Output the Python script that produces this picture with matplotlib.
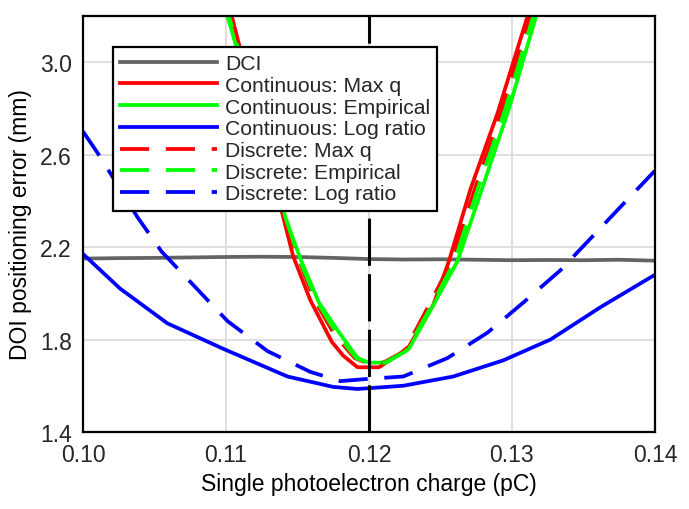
import matplotlib
matplotlib.use('Agg')
import matplotlib.pyplot as plt

plt.rcParams['font.family'] = ['Liberation Sans', 'DejaVu Sans']
plt.rcParams['lines.scale_dashes'] = False

# DCI
dci_x = [0.100, 0.1025, 0.105, 0.1075, 0.110, 0.1125, 0.115, 0.1175, 0.120,
         0.1225, 0.125, 0.1275, 0.130, 0.1325, 0.135, 0.1375, 0.140]
dci_y = [2.150, 2.152, 2.153, 2.155, 2.157, 2.158, 2.157, 2.153, 2.148,
         2.146, 2.147, 2.145, 2.143, 2.144, 2.143, 2.145, 2.141]

# continuous: max q
cmq_x = [0.1090, 0.1104, 0.1140, 0.1147, 0.1159, 0.1174, 0.1182, 0.1192, 0.1207,
         0.1222, 0.1228, 0.1245, 0.1256, 0.1271, 0.1290, 0.1311, 0.1320]
cmq_y = [3.55, 3.20, 2.33, 2.16, 1.97, 1.79, 1.73, 1.68, 1.68,
         1.74, 1.77, 1.95, 2.14, 2.45, 2.78, 3.20, 3.40]

# continuous: empirical
cem_x = [0.1087, 0.1101, 0.1142, 0.1152, 0.1165, 0.1178, 0.1192, 0.1200, 0.1212,
         0.1228, 0.1246, 0.1262, 0.1279, 0.1298, 0.1317, 0.1325]
cem_y = [3.55, 3.20, 2.32, 2.15, 1.96, 1.84, 1.72, 1.70, 1.70,
         1.76, 1.96, 2.14, 2.45, 2.80, 3.20, 3.38]

# continuous: log ratio
clr_x = [0.100, 0.1026, 0.1059, 0.1098, 0.1143, 0.1175, 0.1192, 0.1224,
         0.1259, 0.1294, 0.1327, 0.1362, 0.140]
clr_y = [2.17, 2.02, 1.87, 1.76, 1.64, 1.595, 1.586, 1.60,
         1.64, 1.71, 1.80, 1.94, 2.08]

# discrete: max q
dmq_x = [0.1089, 0.1103, 0.1141, 0.1150, 0.1162, 0.1176, 0.1190, 0.1198, 0.1210,
         0.1225, 0.1243, 0.1258, 0.1274, 0.1293, 0.1313, 0.1322]
dmq_y = [3.55, 3.20, 2.33, 2.16, 1.97, 1.82, 1.72, 1.70, 1.70,
         1.75, 1.96, 2.14, 2.45, 2.79, 3.20, 3.40]

# discrete: empirical
dem_x = [0.1088, 0.1102, 0.1142, 0.1151, 0.1164, 0.1177, 0.1191, 0.1199, 0.1211,
         0.1226, 0.1245, 0.1260, 0.1276, 0.1295, 0.1315, 0.1323]
dem_y = [3.55, 3.20, 2.32, 2.15, 1.96, 1.83, 1.72, 1.70, 1.70,
         1.75, 1.96, 2.14, 2.45, 2.79, 3.20, 3.38]

# discrete: log ratio
dlr_x = [0.100, 0.1012, 0.1038, 0.1055, 0.1078, 0.1101, 0.1129, 0.1159, 0.1180,
         0.1200, 0.1224, 0.1255, 0.1283, 0.1308, 0.1334, 0.1357, 0.1380, 0.140]
dlr_y = [2.70, 2.59, 2.33, 2.18, 2.03, 1.88, 1.75, 1.66, 1.62,
         1.63, 1.64, 1.72, 1.83, 1.96, 2.10, 2.25, 2.40, 2.53]

xticks = [0.10, 0.11, 0.12, 0.13, 0.14]
yticks = [1.4, 1.8, 2.2, 2.6, 3.0]

fig = plt.figure(figsize=(6.89, 5.10), dpi=100)
ax = fig.add_axes([0.1205, 0.151, 0.830, 0.816])

lw = 2.7
dash = (21, 12)
ax.plot(dci_x, dci_y, color='#646464', lw=lw, label='DCI')
ax.plot(cmq_x, cmq_y, color='#ff0000', lw=lw, label='Continuous: Max q')
ax.plot(cem_x, cem_y, color='#00ff00', lw=lw, label='Continuous: Empirical')
ax.plot(clr_x, clr_y, color='#0000ff', lw=lw, label='Continuous: Log ratio')
ax.plot(dmq_x, dmq_y, color='#ff0000', lw=lw, dashes=dash, label='Discrete: Max q')
ax.plot(dem_x, dem_y, color='#00ff00', lw=lw, dashes=dash, label='Discrete: Empirical')
ax.plot(dlr_x, dlr_y, color='#0000ff', lw=lw, dashes=dash, label='Discrete: Log ratio')

ax.axvline(0.12, color='black', lw=2.2, dashes=(34, 6), zorder=5)

ax.set_xlim(0.10, 0.14)
ax.set_ylim(1.4, 3.2)
ax.set_xticks(xticks)
ax.set_yticks(yticks)
ax.set_xticklabels(['%.2f' % v for v in xticks])
ax.set_yticklabels(['%.1f' % v for v in yticks])
ax.tick_params(length=0, labelsize=16.5, labelcolor='#262626', pad=8)
ax.grid(True, color='#dcdcdc', lw=1.3)
ax.set_axisbelow(True)
for s in ax.spines.values():
    s.set_linewidth(1.6)
    s.set_color('black')

ax.set_xlabel('Single photoelectron charge (pC)', fontsize=16.5, labelpad=4)
ax.set_ylabel('DOI positioning error (mm)', fontsize=16.5, labelpad=6)

leg = ax.legend(loc='upper left', bbox_to_anchor=(0.0524, 0.926), borderaxespad=0,
                fontsize=15.2, labelspacing=0.13, handlelength=4.6, handletextpad=0.35,
                borderpad=0.35, fancybox=False, framealpha=1, edgecolor='black')
leg.get_frame().set_linewidth(1.6)
for t in leg.get_texts():
    t.set_color('#262626')

fig.savefig('out.png', dpi=100)
